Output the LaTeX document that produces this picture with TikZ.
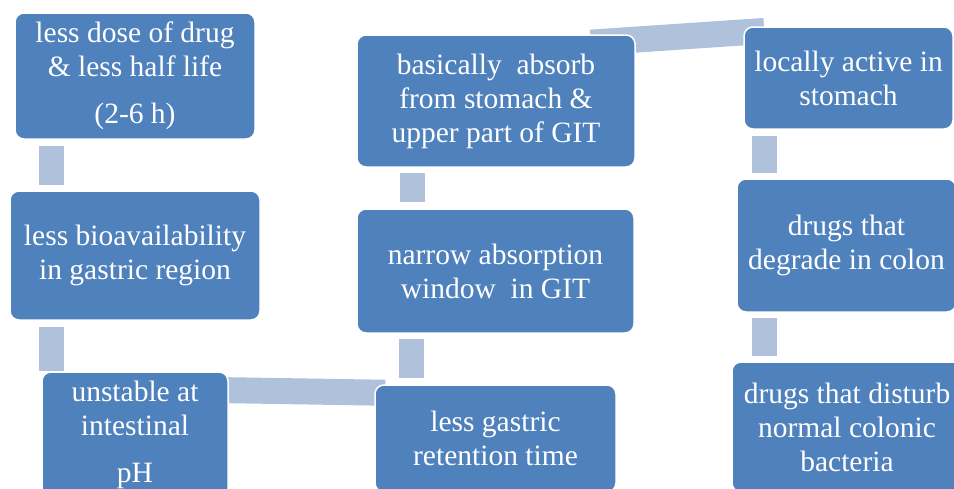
\documentclass[tikz,border=0pt]{standalone}
\usepackage{fontspec}
\setmainfont{Liberation Serif}
\usetikzlibrary{backgrounds}

\definecolor{boxblue}{HTML}{4F81BD}
\definecolor{linkblue}{HTML}{B0C1DC}

\tikzset{
  stepbox/.style={fill=boxblue, draw=white, line width=1.5pt,
    rounded corners=9pt, text=white, align=center, inner sep=0pt,
    font=\fontsize{29.5}{34}\selectfont},
  vlink/.style={draw=linkblue, line width=25pt, line cap=butt},
  band/.style={draw=linkblue, line width=26pt, line cap=butt}
}

\begin{document}
\begin{tikzpicture}[x=1pt, y=-1pt]
  \path[use as bounding box] (0,0) rectangle (954,488);
  \clip (0,0) rectangle (954,488);

  % left column
  \node[stepbox, minimum width=240pt, minimum height=126pt] (b1) at (135,76)
    {less dose of drug\\\& less half life\\[13pt](2-6 h)};
  \node[stepbox, minimum width=250pt, minimum height=129pt] (b2) at (135,255.5)
    {less bioavailability\\in gastric region};
  \node[stepbox, minimum width=186pt, minimum height=126pt] (b3) at (135,435)
    {unstable at\\intestinal\\[13pt]pH};

  % middle column
  \node[stepbox, minimum width=241pt, minimum height=107pt] (b4) at (495.5,438.5)
    {less gastric\\retention time};
  \node[stepbox, minimum width=277pt, minimum height=124pt] (b5) at (495.5,271)
    {narrow absorption\\window\ \ in GIT};
  \node[stepbox, minimum width=278pt, minimum height=132pt] (b6) at (496,101)
    {basically\ \ absorb\\from stomach \&\\upper part of GIT};

  % right column
  \node[stepbox, minimum width=209pt, minimum height=102pt] (b7) at (848.5,78)
    {locally active in\\stomach};
  \node[stepbox, minimum width=219pt, minimum height=133pt] (b8) at (846.5,245.5)
    {drugs that\\degrade in colon};
  \node[stepbox, minimum width=230pt, minimum height=130pt] (b9) at (847,427)
    {drugs that disturb\\normal colonic\\bacteria};

  % white page and the connectors, all behind the boxes
  \begin{pgfonlayer}{background}
    \fill[white] (0,0) rectangle (954,488);
    \begin{scope}
      \clip (0,0) rectangle (954,488);
      \draw[vlink] ([shift={(37,6)}]b1.south west) -- ([shift={(42,-5)}]b2.north west);
      \draw[vlink] ([shift={(42,6)}]b2.south west) -- ([shift={(10,0)}]b3.north west);
      \draw[band]  ([shift={(-28,18.5)}]b3.north east) -- ([shift={(11,8.5)}]b4.north west);
      \draw[vlink] ([shift={(37.5,-6)}]b4.north west) -- ([shift={(55.5,5)}]b5.south west);
      \draw[vlink] ([shift={(56,-6)}]b5.north west) -- ([shift={(56,5)}]b6.south west);
      \draw[band]  ([shift={(-45,8.4)}]b6.north east) -- ([shift={(21,4.7)}]b7.north west);
      \draw[vlink] ([shift={(21.5,6)}]b7.south west) -- ([shift={(28.5,-5)}]b8.north west);
      \draw[vlink] ([shift={(28.5,5)}]b8.south west) -- ([shift={(33.5,-5)}]b9.north west);
    \end{scope}
  \end{pgfonlayer}
\end{tikzpicture}
\end{document}
